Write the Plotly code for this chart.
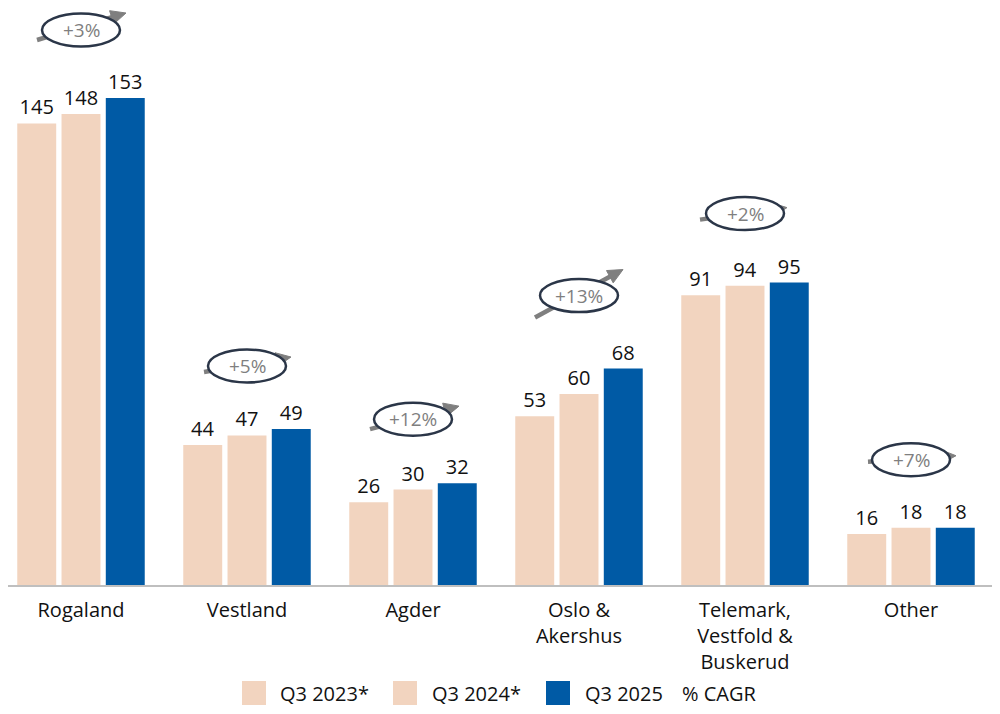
import math
import plotly.graph_objects as go

# ---------------- data ----------------
categories = ["Rogaland", "Vestland", "Agder", "Oslo &<br>Akershus",
              "Telemark,<br>Vestfold &<br>Buskerud", "Other"]
series_names = ["Q3 2023*", "Q3 2024*", "Q3 2025"]
q3_2023 = [145, 44, 26, 53, 91, 16]
q3_2024 = [148, 47, 30, 60, 94, 18]
q3_2025 = [153, 49, 32, 68, 95, 18]
cagr_labels = ["+3%", "+5%", "+12%", "+13%", "+2%", "+7%"]
cagr_legend = "% CAGR"

# ---------------- style ----------------
FONT = "Open Sans"
PEACH = "#F2D4BF"
BLUE = "#005AA5"
GRAY = "#7F7F7F"
NAVY = "#2B3648"
colors = [PEACH, PEACH, BLUE]

OFF = 8  # page offset of the plot div inside the browser window
W_FIG, H_FIG = 1000, 714
M_L, M_R, M_T, M_B = 0, 0, 0, 137
PW = W_FIG - M_L - M_R
PH = H_FIG - M_T - M_B
CAT_PX = 166.0
X_START = -(81 - OFF) / CAT_PX
X_END = X_START + PW / CAT_PX
Y_MAX = PH / 3.183

# per-badge styling (pixel offsets above the tallest bar, arrow tail/tip)
badge_lift = [68, 63, 64, 73, 69, 68]
arrow_tail = [(-44, -10), (-43, -6), (-43, -10), (-44, -22), (-45, -6), (-43, -2)]
arrow_tip = [(45, 17), (44, 9), (46, 13), (44, 26), (42, 6), (45, 4)]

fig = go.Figure()
for name, vals, col in zip(series_names, [q3_2023, q3_2024, q3_2025], colors):
    fig.add_trace(go.Bar(
        x=categories, y=vals, name=name, marker=dict(color=col, line=dict(width=0)),
        text=[str(v) for v in vals], textposition="outside",
        textfont=dict(family=FONT, size=20, color="#111111"),
        cliponaxis=False, showlegend=False,
    ))

shapes = []
annotations = []
for i, cat in enumerate(categories):
    top = max(q3_2023[i], q3_2024[i], q3_2025[i])
    lift = badge_lift[i]
    tx, ty = arrow_tail[i]
    hx, hy = arrow_tip[i]
    dx, dy = hx - tx, hy - ty
    L = math.hypot(dx, dy)
    ux, uy = dx / L, dy / L
    nx, ny = -uy, ux
    head_len, head_w = 15, 7
    bx, by = hx - head_len * ux, hy - head_len * uy
    shapes.append(dict(type="line", xref="x", yref="y", xsizemode="pixel", ysizemode="pixel",
                       xanchor=cat, yanchor=top,
                       x0=tx, y0=lift + ty, x1=bx + 2 * ux, y1=lift + by + 2 * uy,
                       line=dict(color=GRAY, width=4.5), layer="above"))
    p = (f"M {hx:.1f},{lift + hy:.1f} L {bx + head_w * nx:.1f},{lift + by + head_w * ny:.1f} "
         f"L {bx - head_w * nx:.1f},{lift + by - head_w * ny:.1f} Z")
    shapes.append(dict(type="path", xref="x", yref="y", xsizemode="pixel", ysizemode="pixel",
                       xanchor=cat, yanchor=top, path=p,
                       fillcolor=GRAY, line=dict(color=GRAY, width=1), layer="above"))
    shapes.append(dict(type="circle", xref="x", yref="y", xsizemode="pixel", ysizemode="pixel",
                       xanchor=cat, yanchor=top,
                       x0=-39, x1=39, y0=lift - 16.5, y1=lift + 16.5,
                       fillcolor="white", line=dict(color=NAVY, width=2.5), layer="above"))
    annotations.append(dict(x=cat, y=top, xref="x", yref="y", yshift=lift, showarrow=False,
                            text=cagr_labels[i], font=dict(family=FONT, size=19, color=GRAY),
                            xanchor="center", yanchor="middle"))

# ---------------- manual legend ----------------
def px_x(p):
    return (p - OFF - M_L) / PW

def px_y(p):
    return (H_FIG - M_B - (p - OFF)) / PH

leg_swatch_x = [242, 393, 546]
leg_text_x = [278, 430, 583]
leg_cy = 693
for name, col, sx, tx_ in zip(series_names, colors, leg_swatch_x, leg_text_x):
    shapes.append(dict(type="rect", xref="paper", yref="paper",
                       x0=px_x(sx), x1=px_x(sx + 24), y0=px_y(leg_cy + 12), y1=px_y(leg_cy - 12),
                       fillcolor=col, line=dict(width=0)))
    annotations.append(dict(x=px_x(tx_), y=px_y(leg_cy), xref="paper", yref="paper",
                            text=name, showarrow=False, xanchor="left", yanchor="middle",
                            font=dict(family=FONT, size=20, color="#111111")))
annotations.append(dict(x=px_x(680), y=px_y(leg_cy), xref="paper", yref="paper",
                        text=cagr_legend, showarrow=False, xanchor="left", yanchor="middle",
                        font=dict(family=FONT, size=20, color="#111111")))

fig.update_layout(
    width=W_FIG, height=H_FIG,
    margin=dict(l=M_L, r=M_R, t=M_T, b=M_B),
    paper_bgcolor="white", plot_bgcolor="white",
    barmode="group", bargap=0.2, bargroupgap=0.12,
    showlegend=False,
    shapes=shapes, annotations=annotations,
    font=dict(family=FONT, color="#111111"),
    xaxis=dict(type="category", range=[X_START, X_END], showline=True, linecolor="#BFBFBF",
               linewidth=1.5, ticks="", showgrid=False, zeroline=False, ticklabelstandoff=6,
               tickfont=dict(family=FONT, size=20, color="#111111")),
    yaxis=dict(range=[0, Y_MAX], visible=False, showgrid=False, zeroline=False),
)

fig.write_html("out.html")
